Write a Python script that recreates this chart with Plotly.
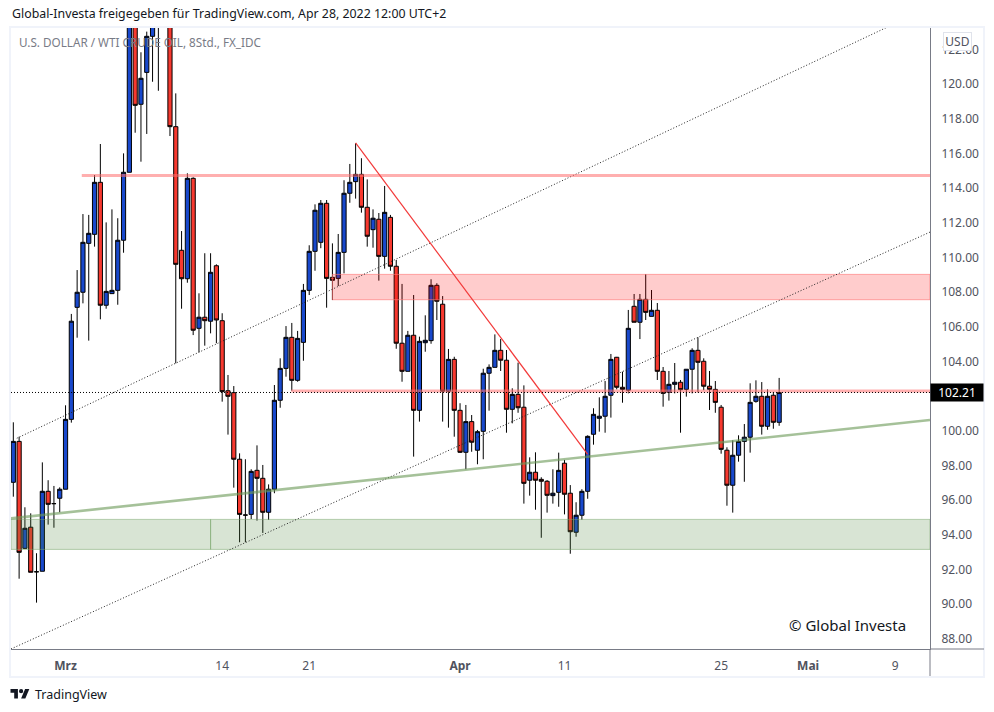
#!/usr/bin/env python3
"""
Recreate the USD / WTI crude 8h candlestick chart with its drawings using Plotly.
"""

import plotly.graph_objects as go

# 8h candles (bars above the top edge are estimates)
opens = [
    97.03, 99.39, 93.22, 94.44, 91.87, 91.90, 96.51, 95.80, 96.11, 96.63,
    100.66, 107.12, 107.99, 110.81, 111.33, 114.33, 107.24, 107.91, 108.10, 110.99,
    114.91, 125.2, 118.83, 120.67, 122.75, 124.0, 125.5, 124.4, 117.54, 110.41,
    108.77, 114.56, 105.91, 106.55, 106.32, 109.52, 106.35, 102.31, 102.20, 98.36,
    95.14, 95.18, 97.72, 97.26, 95.30, 96.63, 101.76, 103.60, 105.39, 102.91,
    105.10, 108.10, 110.35, 110.87, 113.12, 108.85, 108.79, 110.29, 113.70, 114.37,
    114.79, 112.89, 111.60, 112.20, 110.06, 112.31, 109.49, 105.05, 103.43, 105.51,
    101.18, 105.08, 105.20, 108.39, 107.30, 102.28, 104.12, 101.18, 98.76, 100.53,
    98.88, 99.97, 103.32, 103.66, 104.64, 104.07, 101.24, 102.10, 101.36, 97.15,
    97.61, 97.20, 97.09, 96.26, 96.45, 98.13, 96.40, 94.15, 95.13, 96.51,
    99.80, 100.72, 100.84, 102.05, 104.24, 102.51, 102.34, 107.18, 106.26, 107.58,
    106.60, 106.95, 103.43, 102.22, 102.68, 102.80, 102.39, 103.55, 104.64, 104.01,
    102.57, 102.39, 101.36, 98.88, 96.86, 98.59, 99.39, 99.63, 101.70, 101.99,
    100.26, 102.05, 100.49,
]
highs = [
    100.49, 99.66, 95.59, 95.24, 92.94, 98.18, 97.15, 96.82, 96.74, 101.47,
    106.74, 109.27, 112.50, 112.45, 114.75, 116.54, 112.02, 112.77, 112.26, 116.00,
    126.0, 125.8, 121.83, 123.02, 125.4, 125.6, 126.0, 125.0, 119.46, 111.52,
    114.85, 114.62, 107.93, 110.24, 110.24, 109.60, 106.78, 103.22, 102.58, 98.70,
    98.36, 97.78, 99.16, 98.03, 96.91, 102.64, 104.18, 106.04, 106.22, 105.76,
    108.47, 110.70, 113.06, 113.31, 113.31, 110.81, 111.35, 114.45, 115.39, 116.58,
    115.72, 114.50, 112.77, 112.56, 114.12, 112.45, 109.85, 108.47, 105.76, 107.83,
    105.43, 106.66, 108.74, 108.51, 107.77, 104.72, 104.27, 101.59, 101.49, 100.91,
    100.05, 103.58, 103.83, 105.56, 105.29, 104.66, 102.45, 103.93, 102.62, 98.47,
    98.76, 97.32, 97.16, 97.78, 98.74, 98.32, 96.87, 95.88, 96.63, 99.74,
    101.30, 101.93, 102.87, 104.43, 104.26, 103.41, 106.97, 107.89, 107.89, 109.04,
    108.12, 107.37, 103.68, 103.45, 103.91, 102.93, 103.56, 104.76, 105.39, 104.18,
    103.45, 102.87, 101.49, 99.05, 99.45, 99.74, 100.39, 102.74, 102.91, 102.81,
    102.39, 102.24, 103.05,
]
lows = [
    96.20, 91.47, 93.18, 91.84, 90.09, 91.90, 94.59, 94.41, 95.30, 96.63,
    100.47, 105.37, 107.35, 105.20, 110.62, 106.43, 107.04, 107.91, 107.27, 110.27,
    114.91, 117.19, 115.52, 117.12, 120.13, 119.61, 123.9, 117.00, 103.89, 107.04,
    108.54, 105.52, 104.53, 104.91, 105.62, 105.05, 101.68, 99.78, 96.72, 93.57,
    93.57, 94.91, 94.82, 94.11, 94.86, 96.40, 101.33, 103.12, 102.31, 102.83,
    104.04, 107.83, 109.23, 110.53, 107.10, 107.54, 108.35, 109.08, 113.15, 113.39,
    112.58, 110.62, 110.56, 108.66, 109.35, 109.23, 104.73, 102.83, 103.43, 98.51,
    100.53, 104.56, 105.02, 106.39, 100.53, 100.18, 99.66, 98.72, 97.78, 98.79,
    98.07, 98.36, 101.16, 103.66, 103.45, 99.89, 100.43, 101.04, 95.80, 96.26,
    95.45, 93.83, 95.28, 95.80, 95.62, 95.18, 92.91, 93.89, 94.87, 96.08,
    99.20, 99.95, 99.89, 100.76, 102.39, 101.62, 102.16, 106.26, 105.29, 106.39,
    106.60, 102.93, 101.39, 101.74, 102.16, 99.89, 101.97, 102.16, 102.22, 102.34,
    101.20, 101.04, 98.68, 95.68, 95.28, 98.22, 97.06, 98.74, 101.62, 99.78,
    100.06, 100.12, 100.29,
]
closes = [
    99.39, 92.99, 94.38, 91.84, 91.87, 96.51, 95.76, 95.80, 96.63, 100.66,
    106.32, 107.99, 110.87, 111.39, 114.33, 107.24, 108.04, 108.10, 110.99, 114.91,
    125.2, 118.77, 120.33, 122.75, 124.3, 124.9, 124.4, 117.54, 109.60, 108.77,
    114.56, 105.80, 106.55, 106.35, 109.14, 106.39, 102.26, 101.99, 98.36, 95.18,
    95.14, 97.66, 97.26, 95.30, 96.63, 101.76, 103.60, 105.39, 102.91, 105.33,
    108.10, 110.35, 112.72, 113.12, 108.79, 108.68, 110.29, 113.70, 114.33, 114.79,
    112.89, 111.22, 112.26, 110.06, 112.60, 109.49, 105.05, 103.43, 105.51, 101.18,
    105.16, 105.22, 108.39, 107.47, 102.28, 104.12, 101.18, 98.76, 100.53, 99.34,
    99.95, 103.32, 103.66, 104.64, 104.07, 101.24, 102.10, 101.33, 96.97, 97.61,
    97.15, 97.09, 96.28, 96.40, 97.72, 96.34, 94.18, 95.13, 96.51, 99.68,
    100.95, 100.84, 101.99, 104.12, 102.51, 102.39, 105.91, 106.26, 107.58, 106.83,
    106.95, 103.43, 102.16, 102.68, 102.80, 102.37, 103.55, 104.64, 103.95, 102.57,
    102.39, 101.64, 98.93, 96.86, 98.59, 99.39, 99.63, 101.64, 101.99, 100.26,
    101.99, 100.49, 102.21,
]

# time axis, bar number of each label
tick_bars = [9, 36, 51, 77, 95, 122, 137, 152]
tick_names = ["<b>Mrz</b>", "14", "21", "<b>Apr</b>", "11", "25", "<b>Mai</b>", "9"]

# price axis (102.00 sits behind the last price tag in the picture)
price_ticks = [88, 90, 92, 94, 96, 98, 100, 104, 106, 108, 110, 112, 114, 116, 118, 120, 122]
last_price = 102.21

# drawings: bar numbers and prices
first_bar = -0.4
last_bar = 158
upper_channel_bars = [0.6, 150.7]
upper_channel_prices = [99.57, 123.29]
lower_channel_bars = [first_bar, last_bar]
lower_channel_prices = [87.42, 111.46]
red_trend_bars = [59, 99]
red_trend_prices = [116.61, 98.64]
green_trend_bars = [first_bar, last_bar]
green_trend_prices = [94.95, 100.62]
resistance_bars = [11.8, last_bar]
resistance_price = 114.73
support_bars = [47.9, last_bar]
support_price = 102.3
red_zone_bars = [55, last_bar]
red_zone_prices = [109.02, 107.56]
green_zone_split = 34
green_zone_prices = [94.89, 93.16]

# plot area in page pixels
LEFT, RIGHT, TOP, BOTTOM = 11, 930, 28, 649
WIDTH, HEIGHT = 994, 712

INK = "#131722"
GREY = "#787b86"
AXIS_TEXT = "#50535e"
FRAME = "#f0f3fa"
FONT = "Noto Sans"


def px(x):
    """Page pixel to paper x"""
    return (x - LEFT) / (RIGHT - LEFT)


def py(y):
    """Page pixel to paper y"""
    return (BOTTOM - y) / (BOTTOM - TOP)


def add_line(fig, xs, ys, color, width, dash="solid"):
    fig.add_trace(go.Scatter(
        x=xs, y=ys, mode="lines",
        line=dict(color=color, width=width, dash=dash),
        hoverinfo="skip", showlegend=False,
    ))


def add_zone(fig, x0, x1, prices, fill, edge):
    top, bottom = prices
    fig.add_trace(go.Scatter(
        x=[x0, x1, x1, x0, x0], y=[top, top, bottom, bottom, top],
        mode="lines", fill="toself", fillcolor=fill,
        line=dict(color=edge, width=1),
        hoverinfo="skip", showlegend=False,
    ))


def add_text(fig, x, y, text, size, color, **kwargs):
    fig.add_annotation(
        xref="paper", yref="paper", x=px(x), y=py(y), text=text,
        showarrow=False, xanchor=kwargs.pop("xanchor", "left"), yanchor="middle",
        font=dict(family=FONT, size=size, color=color), **kwargs,
    )


fig = go.Figure()

fig.add_trace(go.Candlestick(
    x=list(range(len(opens))),
    open=opens, high=highs, low=lows, close=closes,
    increasing=dict(fillcolor="#1848cc", line=dict(color="#000000", width=1)),
    decreasing=dict(fillcolor="#f7392f", line=dict(color="#000000", width=1)),
    whiskerwidth=0,
    showlegend=False,
))

# Zones and lines sit on top of the candles
add_zone(fig, red_zone_bars[0], red_zone_bars[1], red_zone_prices,
         "rgba(255,0,0,0.2)", "rgba(255,120,120,0.65)")
add_zone(fig, first_bar, green_zone_split, green_zone_prices,
         "rgba(76,130,60,0.22)", "rgba(120,165,105,0.5)")
add_zone(fig, green_zone_split, last_bar, green_zone_prices,
         "rgba(76,130,60,0.22)", "rgba(120,165,105,0.5)")
add_line(fig, upper_channel_bars, upper_channel_prices, "#222222", 1, "1px,2px")
add_line(fig, lower_channel_bars, lower_channel_prices, "#222222", 1, "1px,2px")
add_line(fig, resistance_bars, [resistance_price] * 2, "rgba(255,110,110,0.55)", 3)
add_line(fig, support_bars, [support_price] * 2, "rgba(255,110,110,0.55)", 3)
add_line(fig, green_trend_bars, green_trend_prices, "rgba(110,155,90,0.62)", 2.6)
add_line(fig, red_trend_bars, red_trend_prices, "#f23a3a", 1.2)
add_line(fig, [first_bar, last_bar], [last_price] * 2, "#000000", 1, "1px,2px")

fig.update_layout(
    width=WIDTH,
    height=HEIGHT,
    autosize=False,
    margin=dict(l=LEFT, r=WIDTH - RIGHT, t=TOP, b=HEIGHT - BOTTOM, autoexpand=False),
    paper_bgcolor="white",
    plot_bgcolor="white",
    boxgap=0.28,
    boxgroupgap=0,
    hovermode=False,
    font=dict(family=FONT, size=12, color=AXIS_TEXT),
    xaxis=dict(
        range=[first_bar, last_bar],
        rangeslider=dict(visible=False),
        tickmode="array",
        tickvals=tick_bars,
        ticktext=tick_names,
        showgrid=False,
        zeroline=False,
        showline=True,
        linecolor=GREY,
        linewidth=1,
        ticks="",
        ticklabelstandoff=6,
        tickfont=dict(family=FONT, size=12, color=AXIS_TEXT),
    ),
    yaxis=dict(
        range=[87.416, 123.23],
        side="right",
        tickmode="array",
        tickvals=price_ticks,
        ticktext=[f"{p:.2f}" for p in price_ticks],
        showgrid=False,
        zeroline=False,
        showline=True,
        linecolor=GREY,
        linewidth=1,
        ticks="",
        ticklabelstandoff=8,
        tickfont=dict(family=FONT, size=12, color=AXIS_TEXT),
    ),
)

# Outer frame and the axis lines running through the scale corners
fig.add_shape(type="rect", xref="paper", yref="paper", layer="below",
              x0=px(10), x1=px(984), y0=py(677), y1=py(27),
              line=dict(color=FRAME, width=2))
fig.add_shape(type="line", xref="paper", yref="paper",
              x0=px(930), x1=px(984), y0=py(649), y1=py(649),
              line=dict(color=GREY, width=1))
fig.add_shape(type="line", xref="paper", yref="paper",
              x0=px(930), x1=px(930), y0=py(649), y1=py(676),
              line=dict(color=GREY, width=1))

# TradingView logo
LOGO_X, LOGO_Y, LOGO_S = 10.5, 686.9, 0.53


def logo_path(points):
    return "M" + " L".join(
        f"{px(LOGO_X + a * LOGO_S):.5f},{py(LOGO_Y + b * LOGO_S):.5f}" for a, b in points
    ) + " Z"


for points in ([(14, 22), (7, 22), (7, 11), (0, 11), (0, 4), (14, 4)],
               [(28, 22), (20, 22), (27.5, 4), (35.5, 4)]):
    fig.add_shape(type="path", xref="paper", yref="paper", path=logo_path(points),
                  fillcolor=INK, line=dict(width=0))
fig.add_shape(type="circle", xref="paper", yref="paper",
              x0=px(LOGO_X + 16 * LOGO_S), x1=px(LOGO_X + 24 * LOGO_S),
              y0=py(LOGO_Y + 12 * LOGO_S), y1=py(LOGO_Y + 4 * LOGO_S),
              fillcolor=INK, line=dict(width=0))

add_text(fig, 10, 14, "Global-Investa freigegeben für TradingView.com, Apr 28, 2022 12:00 UTC+2", 12.35, INK)
add_text(fig, 17, 42, "U.S. DOLLAR / WTI CRUDE OIL, 8Std., FX_IDC", 11.7, GREY)
add_text(fig, 787, 625, "© Global Investa", 15, INK)
add_text(fig, 33, 694, "TradingView", 12.5, INK)
add_text(fig, 957, 41.5, "USD", 12, AXIS_TEXT, xanchor="center", bgcolor="white",
         bordercolor="#e0e3eb", borderwidth=1, borderpad=1, width=25, height=15)
fig.add_annotation(
    xref="paper", yref="y", x=px(930), y=last_price, text="102.21",
    showarrow=False, xanchor="left", yanchor="middle", bgcolor="#000000",
    width=50, height=15, font=dict(family=FONT, size=12, color="white"),
)

fig.write_html("out.html", config=dict(displayModeBar=False),
               post_script="document.body.style.margin='0';")
